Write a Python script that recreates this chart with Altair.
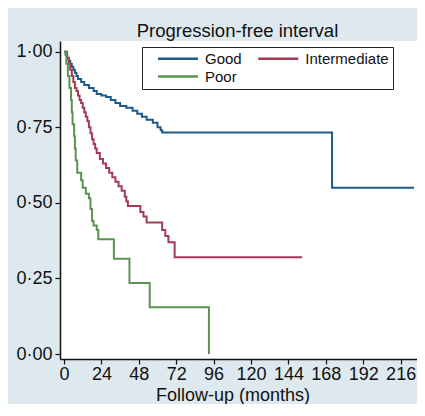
import altair as alt
import pandas as pd

groups = ["Good", "Intermediate", "Poor"]
colors = ["#1c5a8a", "#a53a55", "#5a9450"]

good_t = [0, 1, 2, 3, 4, 5, 6, 7, 8, 9, 11, 13, 16, 19, 21, 24, 27, 30, 33, 36,
          40, 44, 47, 50, 53, 57, 60, 62, 63, 172, 224.6]
good_s = [1.0, 0.99, 0.98, 0.97, 0.96, 0.95, 0.94, 0.93, 0.92, 0.91, 0.90, 0.89,
          0.88, 0.87, 0.86, 0.855, 0.85, 0.84, 0.83, 0.82, 0.815, 0.805, 0.795,
          0.785, 0.775, 0.765, 0.75, 0.74, 0.733, 0.55, 0.55]

int_t = [0, 2, 3, 4, 5, 6, 7, 8, 9, 10, 11, 12, 13, 14, 15, 16, 17, 18, 19, 20,
         21, 23, 25, 27, 29, 31, 33, 35, 37, 39, 40, 41, 49, 51, 53, 63, 65, 67,
         71, 152.8]
int_s = [1.0, 0.98, 0.96, 0.94, 0.92, 0.90, 0.88, 0.87, 0.855, 0.84, 0.83, 0.815,
         0.80, 0.785, 0.77, 0.75, 0.73, 0.71, 0.695, 0.68, 0.665, 0.645, 0.63,
         0.615, 0.60, 0.585, 0.57, 0.555, 0.54, 0.52, 0.505, 0.49, 0.47, 0.455,
         0.435, 0.41, 0.39, 0.37, 0.32, 0.32]

poor_t = [0, 1.5, 2.5, 3.5, 4.5, 5, 5.5, 6.5, 7, 7.5, 8.5, 11, 12, 14, 16, 17,
          18, 19, 21, 22, 32, 42, 55, 93]
poor_s = [1.0, 0.96, 0.92, 0.88, 0.84, 0.80, 0.76, 0.72, 0.68, 0.64, 0.60, 0.575,
          0.55, 0.53, 0.515, 0.48, 0.44, 0.425, 0.41, 0.38, 0.315, 0.235, 0.155,
          0.0]

x_ticks = [0, 24, 48, 72, 96, 120, 144, 168, 192, 216]
y_ticks = [0, 0.25, 0.5, 0.75, 1.0]

rows = []
for g, ts, ss in [("Good", good_t, good_s), ("Intermediate", int_t, int_s),
                  ("Poor", poor_t, poor_s)]:
    for t, s in zip(ts, ss):
        rows.append({"group": g, "time": t, "surv": s})
df = pd.DataFrame(rows)

FONT = "Liberation Sans"

chart = alt.Chart(df).mark_line(interpolate="step-after", strokeWidth=2).encode(
    x=alt.X("time:Q",
            scale=alt.Scale(domain=[-2.567, 226.5], nice=False, zero=False),
            axis=alt.Axis(values=x_ticks, title="Follow-up (months)", grid=False,
                          tickSize=5, labelPadding=1, labelFontSize=18,
                          titleFontSize=18, titleFontWeight="normal",
                          titleX=172.5, titleY=41.5, titleBaseline="alphabetic",
                          titleAlign="center", labelFlush=False)),
    y=alt.Y("surv:Q",
            scale=alt.Scale(domain=[-0.0165, 1.0354], nice=False, zero=False),
            axis=alt.Axis(values=y_ticks, title=None, grid=False, tickSize=5,
                          labelPadding=3, labelFontSize=18,
                          labelExpr="replace(format(datum.value, '.2f'), '.', '·')")),
    color=alt.Color("group:N",
                    scale=alt.Scale(domain=groups, range=colors),
                    legend=alt.Legend(title=None, orient="none", legendX=82,
                                      legendY=6, columns=2, direction="horizontal",
                                      symbolType="M0.9,0H8.9", symbolSize=100,
                                      symbolStrokeWidth=2.5, labelOffset=44,
                                      columnPadding=4.3, rowPadding=2, padding=4,
                                      strokeColor="#222", fillColor="white",
                                      labelFontSize=15, labelFont=FONT,
                                      labelColor="#111",
                                      labelExpr="datum.label == 'Intermediate' ? datum.label + '\u2002' : datum.label")),
).properties(
    width=357,
    height=318,
    autosize=alt.AutoSizeParams(type="none"),
    padding={"left": 52, "top": 33, "right": 0, "bottom": 45},
    title=alt.Title("Progression-free interval", fontSize=18.5, font=FONT,
                    fontWeight="normal", color="#111", offset=4,
                    baseline="alphabetic", dx=-1, dy=18),
    background="#dde9ee",
).configure_view(
    fill="white", strokeWidth=0
).configure_axis(
    labelFont=FONT, titleFont=FONT, labelColor="#111", titleColor="#111",
    domainColor="#111", domainWidth=1.5, tickColor="#111", tickWidth=1.2,
)

chart.save("out.html", embed_options={"renderer": "svg", "actions": False})
